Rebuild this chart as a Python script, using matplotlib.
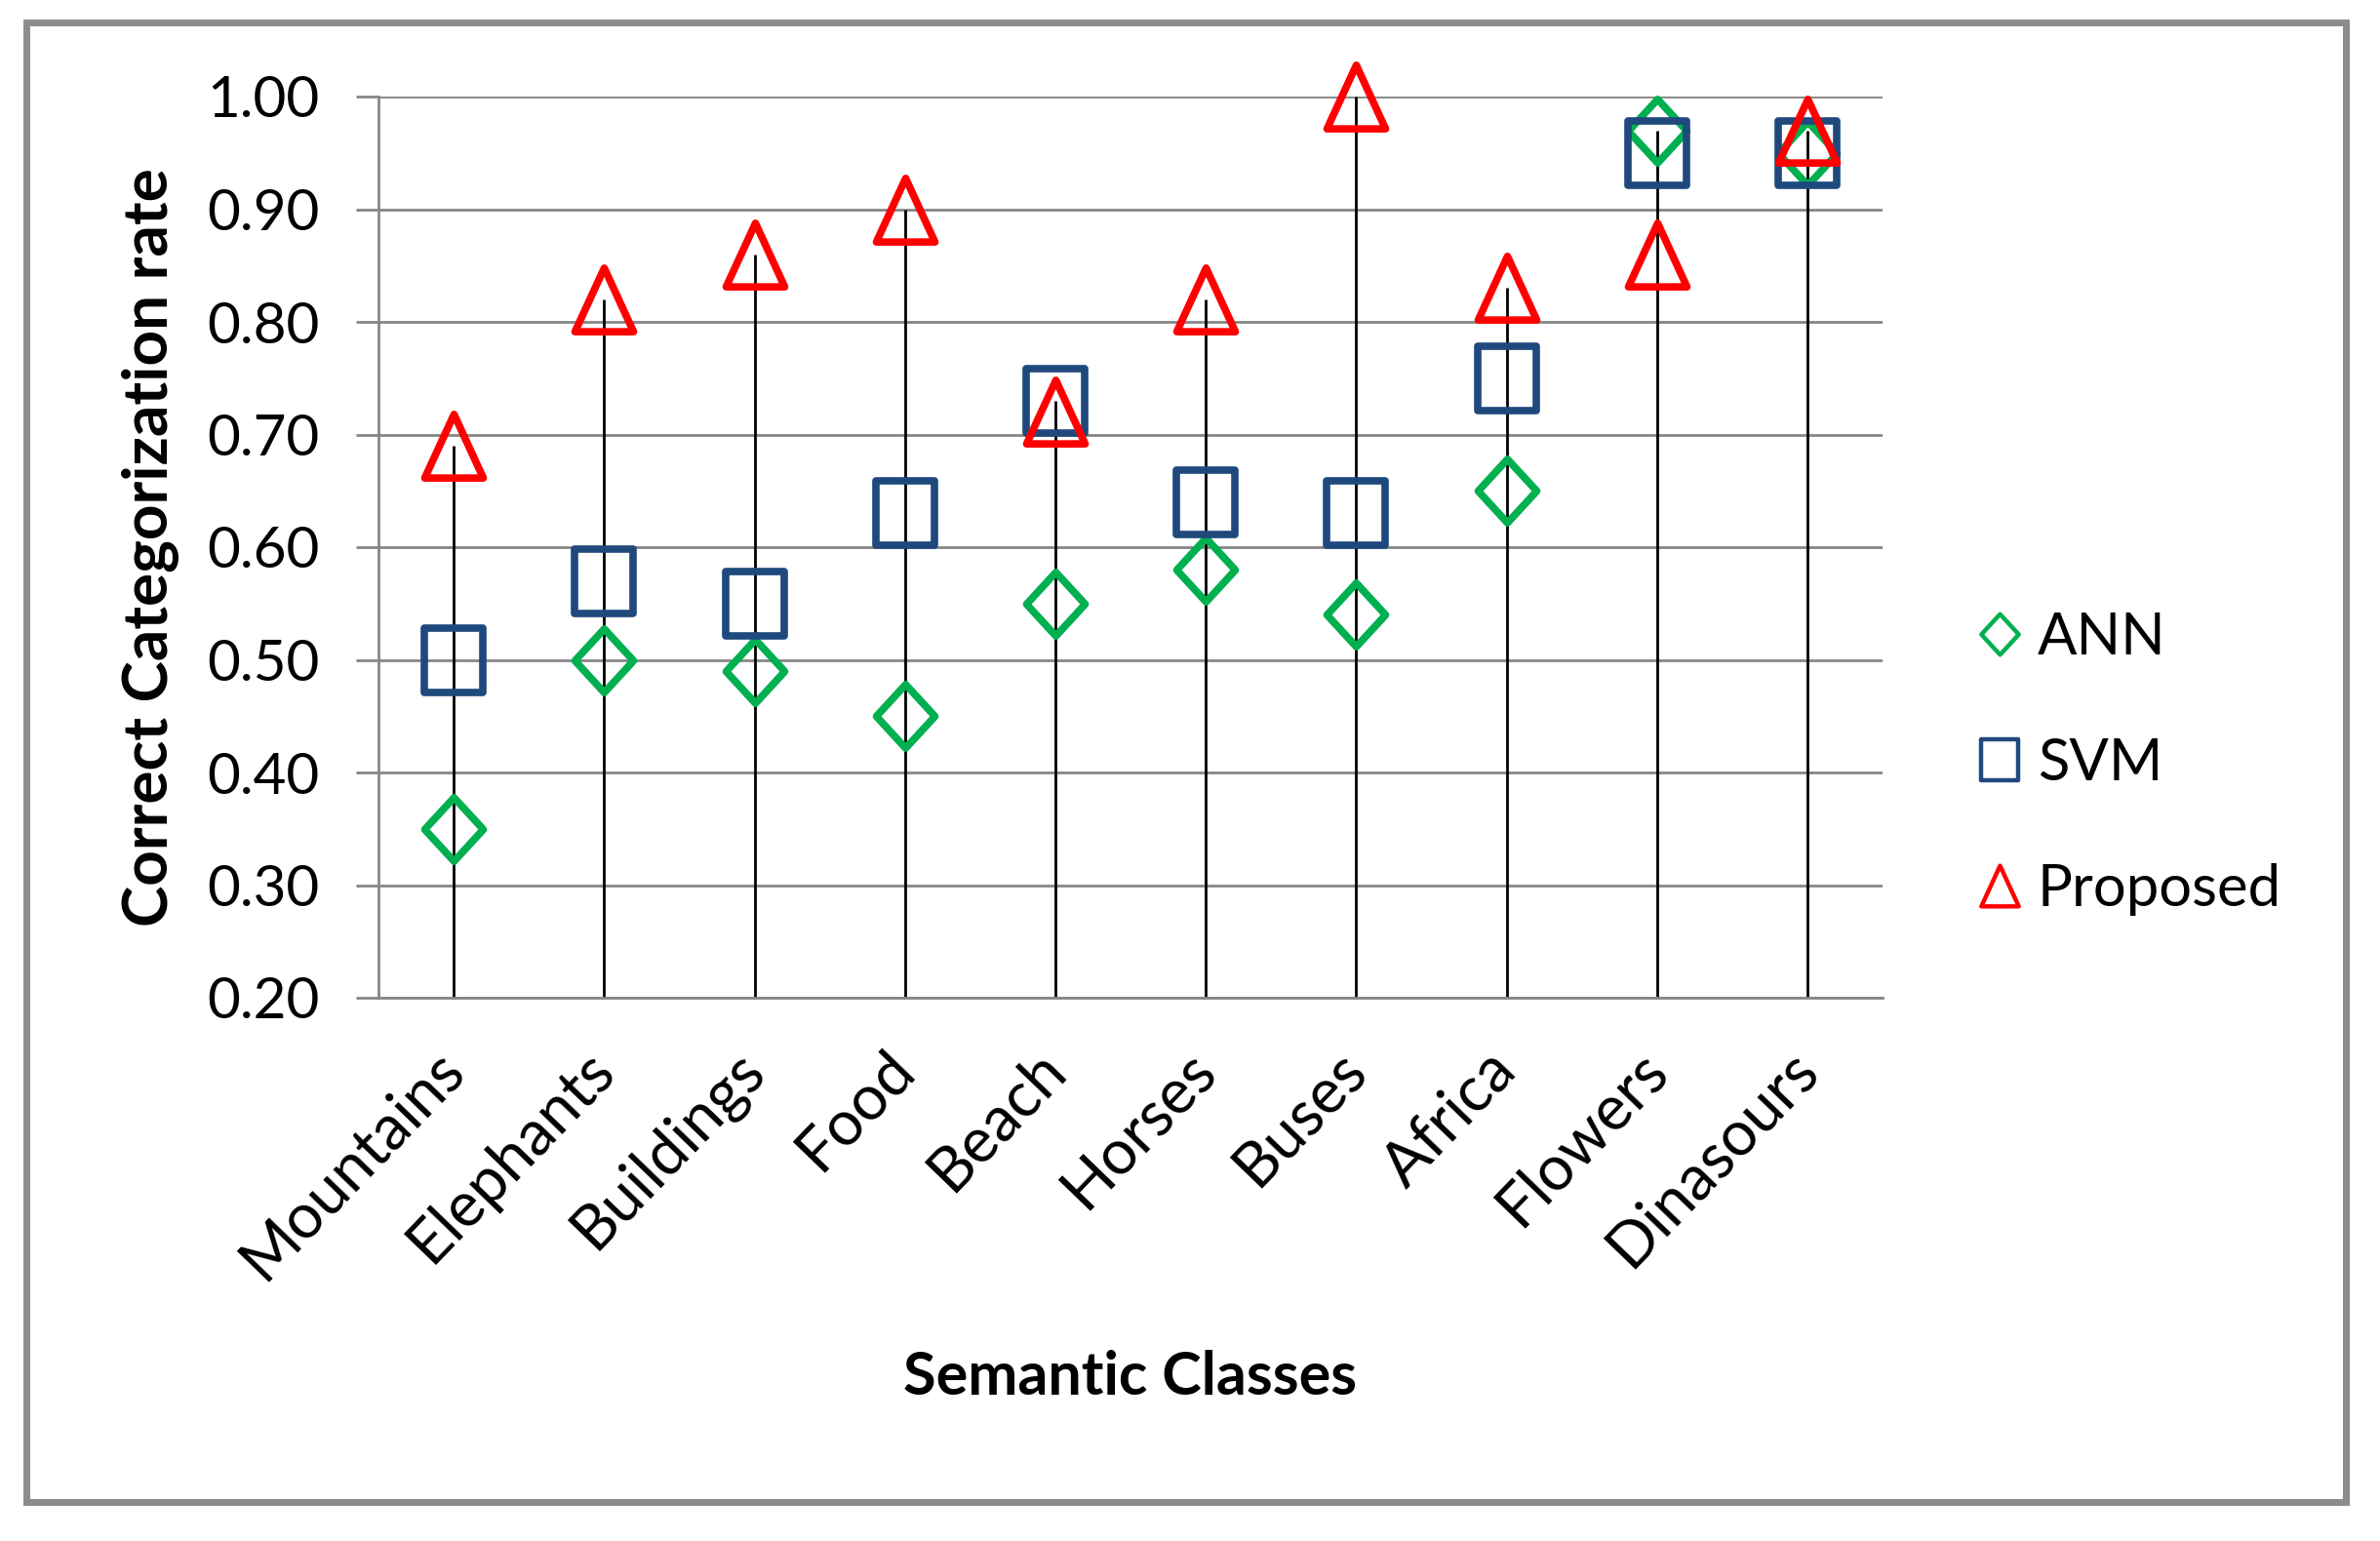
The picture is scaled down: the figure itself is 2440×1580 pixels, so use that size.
import numpy as np
import matplotlib
matplotlib.use("Agg")
from matplotlib import pyplot as plt
from matplotlib.path import Path
from matplotlib.markers import MarkerStyle
from matplotlib.lines import Line2D
from matplotlib.patches import Rectangle

plt.rcParams['font.family'] = ['Lato', 'DejaVu Sans']

categories = ['Mountains', 'Elephants', 'Buildings', 'Food', 'Beach',
              'Horses', 'Buses', 'Africa', 'Flowers', 'Dinasours']
ann = [0.35, 0.50, 0.49, 0.45, 0.55, 0.58, 0.54, 0.65, 0.97, 0.95]
svm = [0.50, 0.57, 0.55, 0.63, 0.73, 0.64, 0.63, 0.75, 0.95, 0.95]
proposed = [0.69, 0.82, 0.86, 0.90, 0.72, 0.82, 1.00, 0.83, 0.86, 0.97]
yticks = [0.20, 0.30, 0.40, 0.50, 0.60, 0.70, 0.80, 0.90, 1.00]

grey = '#868686'
green = '#00B050'
blue = '#1F497D'
red = '#FF0000'

# marker shapes, a bit taller than wide like the excel ones
w = 0.46
diamond = MarkerStyle(Path([(0, 0.5), (w, 0), (0, -0.5), (-w, 0), (0, 0.5)],
                           [1, 2, 2, 2, 79]), joinstyle='miter')
square = MarkerStyle(Path([(-w, -0.5), (w, -0.5), (w, 0.5), (-w, 0.5), (-w, -0.5)],
                          [1, 2, 2, 2, 79]), joinstyle='miter')
triangle = MarkerStyle(Path([(0, 0.5), (w, -0.5), (-w, -0.5), (0, 0.5)],
                            [1, 2, 2, 79]), joinstyle='miter')

fig = plt.figure(figsize=(24.4, 15.8), dpi=100)
ax = fig.add_axes([388 / 2440, 1 - 1023 / 1580, (1930 - 388) / 2440, (1023 - 99) / 1580])

x = np.arange(len(categories))
tops = np.max(np.vstack([ann, svm, proposed]), axis=0)
ax.vlines(x, 0.2, tops, color='black', lw=2, zorder=2)

for vals, mk, col in [(ann, diamond, green), (svm, square, blue), (proposed, triangle, red)]:
    ax.plot(x, vals, ls='none', marker=mk, ms=47, mfc='none', mec=col, mew=5.5,
            zorder=3, clip_on=False)

ax.set_xlim(-0.5, len(categories) - 0.5)
ax.set_ylim(0.2, 1.0)
ax.set_yticks(yticks)
ax.set_yticklabels(['%.2f' % v for v in yticks])
ax.yaxis.grid(True, color=grey, lw=2)
ax.set_axisbelow(True)
for s in ['top', 'right']:
    ax.spines[s].set_visible(False)
ax.spines['left'].set_color(grey)
ax.spines['left'].set_linewidth(2)
ax.spines['bottom'].set_color(grey)
ax.spines['bottom'].set_linewidth(2)
ax.tick_params(axis='y', length=16.5, width=2, color=grey, pad=27, labelsize=42)
ax.tick_params(axis='x', length=0, pad=46, labelsize=46)
ax.set_xticks(x)
ax.set_xticklabels(categories, rotation=46, ha='right', va='center',
                   rotation_mode='anchor')

ax.set_ylabel('Correct Categorization rate', fontsize=46, fontweight='bold', labelpad=21)
ax.set_xlabel('Semantic Classes', fontsize=44, fontweight='bold', labelpad=44)

handles = [Line2D([], [], ls='none', marker=diamond, ms=30, mfc='none', mec=green, mew=3.2),
           Line2D([], [], ls='none', marker=square, ms=30, mfc='none', mec=blue, mew=3.2),
           Line2D([], [], ls='none', marker=triangle, ms=30, mfc='none', mec=red, mew=3.2)]
fig.legend(handles, ['ANN', 'SVM', 'Proposed'], loc='center left',
           bbox_to_anchor=(2020 / 2440, 1 - 783 / 1580), frameon=False, fontsize=43,
           handlelength=1.0, handletextpad=0.15, labelspacing=1.25, borderpad=0,
           borderaxespad=0)

fig.patches.append(Rectangle((27 / 2440, 1 - 1540 / 1580), (2405 - 27) / 2440,
                             (1540 - 23) / 1580, transform=fig.transFigure,
                             fill=False, ec='#8C8C8C', lw=5))

fig.savefig('out.png', dpi=100)
